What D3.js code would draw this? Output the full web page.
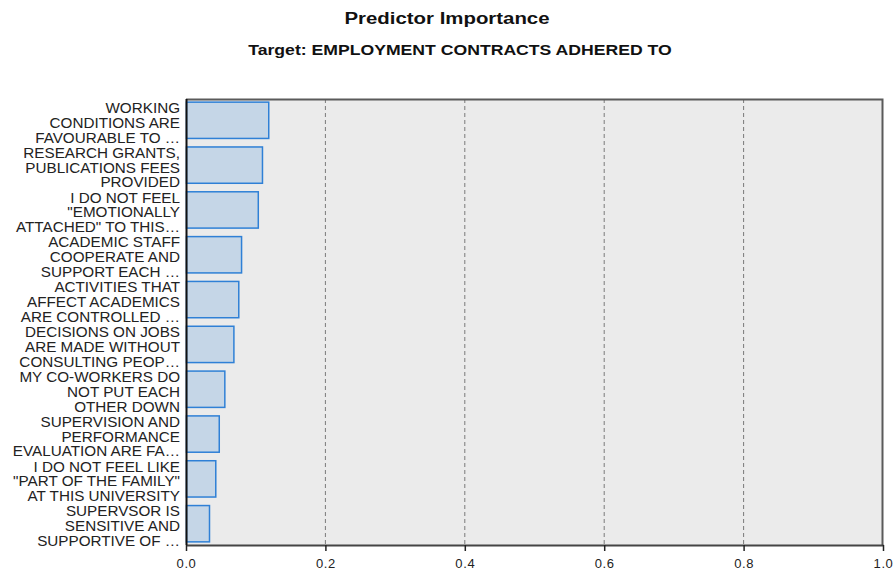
<!DOCTYPE html>
<html>
<head>
<meta charset="utf-8">
<script src="https://cdn.jsdelivr.net/npm/d3@7"></script>
<style>
  body { margin: 0; background: #fff; }
  svg { font-family: "Liberation Sans", Arial, sans-serif; }
</style>
</head>
<body>
<div id="chart"></div>
<script>
// data
const predictors = [
  "WORKING\nCONDITIONS ARE\nFAVOURABLE TO …",
  "RESEARCH GRANTS,\nPUBLICATIONS FEES\nPROVIDED",
  "I DO NOT FEEL\n\"EMOTIONALLY\nATTACHED\" TO THIS…",
  "ACADEMIC STAFF\nCOOPERATE AND\nSUPPORT EACH …",
  "ACTIVITIES THAT\nAFFECT ACADEMICS\nARE CONTROLLED …",
  "DECISIONS ON JOBS\nARE MADE WITHOUT\nCONSULTING PEOP…",
  "MY CO-WORKERS DO\nNOT PUT EACH\nOTHER DOWN",
  "SUPERVISION AND\nPERFORMANCE\nEVALUATION ARE FA…",
  "I DO NOT FEEL LIKE\n\"PART OF THE FAMILY\"\nAT THIS UNIVERSITY",
  "SUPERVSOR IS\nSENSITIVE AND\nSUPPORTIVE OF …"
];
const importance = [0.118, 0.109, 0.103, 0.079, 0.075, 0.068, 0.055, 0.047, 0.042, 0.033];
const xTicks = [0, 0.2, 0.4, 0.6, 0.8, 1.0];

const title = "Predictor Importance";
const subtitle = "Target: EMPLOYMENT CONTRACTS ADHERED TO";

// dimensions
const width = 894, height = 571;
const margin = { top: 99, right: 11, bottom: 26, left: 186 };
const innerW = width - margin.left - margin.right;
const innerH = height - margin.top - margin.bottom;

const svg = d3.select("#chart")
  .append("svg")
  .attr("width", width)
  .attr("height", height);

// titles (the original font runs wider, so stretch horizontally)
svg.append("text")
  .attr("transform", "translate(447, 24) scale(1.2, 1)")
  .attr("text-anchor", "middle")
  .attr("font-size", "17px")
  .attr("font-weight", "bold")
  .attr("fill", "#111")
  .text(title);

svg.append("text")
  .attr("transform", "translate(460, 55) scale(1.26, 1)")
  .attr("text-anchor", "middle")
  .attr("font-size", "14px")
  .attr("font-weight", "bold")
  .attr("fill", "#111")
  .text(subtitle);

const g = svg.append("g")
  .attr("transform", `translate(${margin.left}, ${margin.top})`);

// scales
const xScale = d3.scaleLinear()
  .domain([0, 1])
  .range([0, innerW]);

const yScale = d3.scaleBand()
  .domain(predictors)
  .range([0, innerH])
  .paddingInner(0.19)
  .paddingOuter(0.07);

// plot background
g.append("rect")
  .attr("width", innerW)
  .attr("height", innerH)
  .attr("fill", "#ebebeb");

// dashed grid
g.selectAll(".grid")
  .data(xTicks.filter(d => d > 0 && d < 1))
  .join("line")
  .attr("x1", d => xScale(d))
  .attr("x2", d => xScale(d))
  .attr("y1", 0)
  .attr("y2", innerH)
  .attr("stroke", "#7a7a7a")
  .attr("stroke-width", 1)
  .attr("stroke-dasharray", "4,3");

// frame top and right
g.append("path")
  .attr("d", `M0,0.5H${innerW - 0.5}V${innerH}`)
  .attr("fill", "none")
  .attr("stroke", "#5a5a5a")
  .attr("stroke-width", 2);

// bars
g.selectAll(".bar")
  .data(importance)
  .join("rect")
  .attr("x", 0.5)
  .attr("y", (d, i) => yScale(predictors[i]))
  .attr("width", d => xScale(d))
  .attr("height", yScale.bandwidth())
  .attr("fill", "#c5d6e7")
  .attr("stroke", "#2f80d6")
  .attr("stroke-width", 1.5);

// labels
const lineH = 14.8;
predictors.forEach(p => {
  const lines = p.split("\n");
  const cy = yScale(p) + yScale.bandwidth() / 2;
  const t = g.append("text")
    .attr("transform", `translate(-6, ${cy}) scale(1.09, 1)`)
    .attr("text-anchor", "end")
    .attr("font-size", "14px")
    .attr("fill", "#222");
  lines.forEach((ln, j) => {
    t.append("tspan")
      .attr("x", 0)
      .attr("y", (j - (lines.length - 1) / 2) * lineH + 7.5)
      .text(ln);
  });
});

// axes
const xAxis = d3.axisBottom(xScale)
  .tickValues(xTicks)
  .tickFormat(d3.format(".1f"))
  .tickSize(6)
  .tickSizeOuter(0);

const xg = g.append("g")
  .attr("transform", `translate(0, ${innerH})`)
  .call(xAxis);
xg.select(".domain").attr("stroke", "#444").attr("stroke-width", 2);
xg.selectAll(".tick line").attr("stroke", "#222").attr("stroke-width", 1.5);
xg.selectAll(".tick text")
  .attr("font-size", "13px")
  .attr("font-family", "'Liberation Sans', Arial, sans-serif")
  .attr("letter-spacing", "0.6px")
  .attr("fill", "#222")
  .attr("dy", "1.05em");

g.append("line")
  .attr("x1", 0.5).attr("x2", 0.5)
  .attr("y1", 0).attr("y2", innerH)
  .attr("stroke", "#111")
  .attr("stroke-width", 2);
</script>
</body>
</html>
